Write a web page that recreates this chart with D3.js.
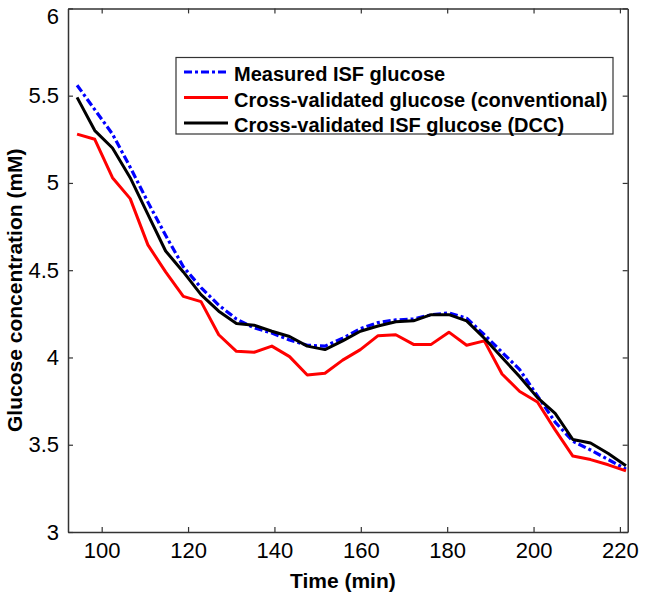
<!DOCTYPE html>
<html>
<head>
<meta charset="utf-8">
<script src="https://cdn.jsdelivr.net/npm/d3@7"></script>
<style>
  html, body { margin: 0; padding: 0; background: #fff; }
  svg { display: block; font-family: "Liberation Sans", Arial, sans-serif; }
</style>
</head>
<body>
<svg id="chart" width="646" height="599"></svg>
<script>
const timeMin = [94.3, 98.4, 102.5, 106.6, 110.7, 114.8, 118.9, 123.0, 127.1, 131.2, 135.3, 139.4, 143.5, 147.6, 151.7, 155.8,
                 159.9, 164.0, 168.1, 172.2, 176.3, 180.4, 184.5, 188.6, 192.7, 196.8, 200.9, 205.0, 209.1, 213.2, 217.3, 221.4];
const measuredISF = [5.56, 5.42, 5.28, 5.09, 4.89, 4.70, 4.52, 4.40, 4.30, 4.22, 4.17, 4.14, 4.10, 4.07, 4.065, 4.11,
                     4.165, 4.20, 4.215, 4.22, 4.245, 4.255, 4.225, 4.13, 4.03, 3.93, 3.78, 3.63, 3.52, 3.47, 3.415, 3.36];
const cvConventional = [5.28, 5.25, 5.03, 4.91, 4.645, 4.49, 4.35, 4.32, 4.13, 4.035, 4.03, 4.065, 4.005, 3.90, 3.91, 3.985,
                        4.045, 4.125, 4.13, 4.075, 4.075, 4.145, 4.07, 4.095, 3.905, 3.805, 3.745, 3.585, 3.435, 3.415, 3.385, 3.35];
const cvDCC = [5.49, 5.30, 5.20, 5.03, 4.82, 4.61, 4.49, 4.36, 4.265, 4.195, 4.185, 4.15, 4.12, 4.065, 4.045, 4.095,
               4.15, 4.18, 4.205, 4.21, 4.245, 4.245, 4.21, 4.11, 4.00, 3.89, 3.77, 3.68, 3.53, 3.51, 3.45, 3.38];
const seriesNames = ["Measured ISF glucose", "Cross-validated glucose (conventional)", "Cross-validated ISF glucose (DCC)"];
const xTicks = [100, 120, 140, 160, 180, 200, 220];
const yTicks = [3, 3.5, 4, 4.5, 5, 5.5, 6];
const xTitle = "Time (min)";
const yTitle = "Glucose concentration (mM)";

const svg = d3.select("#chart");
const L = 68, R = 627.7, T = 8.4, B = 532;
const x = d3.scaleLinear().domain([92.2, 221.8]).range([L, R]);
const y = d3.scaleLinear().domain([3, 6]).range([B, T]);

const axisColor = "#333";
const tickLen = 5;

// plot lines
const series = [
  { name: seriesNames[0], values: measuredISF, color: "#0000ff", width: 3.2, dash: "8,3,3,3" },
  { name: seriesNames[1], values: cvConventional, color: "#ff0000", width: 3, dash: null },
  { name: seriesNames[2], values: cvDCC, color: "#000000", width: 3, dash: null }
];
const line = d3.line().x((d, i) => x(timeMin[i])).y(d => y(d));
series.forEach(s => {
  svg.append("path")
    .datum(s.values)
    .attr("d", line)
    .attr("fill", "none")
    .attr("stroke", s.color)
    .attr("stroke-width", s.width)
    .attr("stroke-linejoin", "round")
    .attr("stroke-dasharray", s.dash);
});

// axes box with inward ticks on all sides
const gB = svg.append("g").attr("transform", `translate(0,${B})`)
  .call(d3.axisBottom(x).tickValues(xTicks).tickSizeInner(-tickLen).tickSizeOuter(0).tickPadding(10).tickFormat(d3.format("d")));
const gT = svg.append("g").attr("transform", `translate(0,${T})`)
  .call(d3.axisTop(x).tickValues(xTicks).tickSizeInner(-tickLen).tickSizeOuter(0).tickFormat(""));
const gL = svg.append("g").attr("transform", `translate(${L},0)`)
  .call(d3.axisLeft(y).tickValues(yTicks).tickSizeInner(-tickLen).tickSizeOuter(0).tickPadding(9).tickFormat(d => d3.format("")(d)));
const gR = svg.append("g").attr("transform", `translate(${R},0)`)
  .call(d3.axisRight(y).tickValues(yTicks).tickSizeInner(-tickLen).tickSizeOuter(0).tickFormat(""));

[gB, gT, gL, gR].forEach(g => {
  g.select(".domain").attr("stroke", axisColor).attr("stroke-width", 1.5);
  g.selectAll(".tick line").attr("stroke", axisColor).attr("stroke-width", 1.2);
  g.selectAll("text").attr("fill", "#000").attr("font-size", 22).attr("font-family", "Liberation Sans, Arial, sans-serif");
});
// the top label is kept inside the figure
gL.selectAll(".tick text").filter(d => d === 6).attr("dy", "0.68em");

// axis titles
svg.append("text")
  .attr("x", (L + R) / 2 - 5).attr("y", 588)
  .attr("text-anchor", "middle")
  .attr("font-size", 21).attr("font-weight", "bold")
  .text(xTitle);
svg.append("text")
  .attr("transform", `translate(22,${(T + B) / 2 + 20}) rotate(-90)`)
  .attr("text-anchor", "middle")
  .attr("font-size", 21).attr("font-weight", "bold")
  .text(yTitle);

// legend
const lg = svg.append("g");
lg.append("rect")
  .attr("x", 176).attr("y", 57.5).attr("width", 437).attr("height", 76.5)
  .attr("fill", "#fff").attr("stroke", axisColor).attr("stroke-width", 1.2);
series.forEach((s, i) => {
  const cy = 74 + i * 25.5;
  lg.append("line")
    .attr("x1", 184).attr("x2", 228).attr("y1", cy - 2).attr("y2", cy - 2)
    .attr("stroke", s.color).attr("stroke-width", s.width)
    .attr("stroke-dasharray", s.dash);
  lg.append("text")
    .attr("x", 234).attr("y", cy).attr("dy", "0.35em")
    .attr("font-size", 20).attr("font-weight", "bold")
    .text(s.name);
});
</script>
</body>
</html>
